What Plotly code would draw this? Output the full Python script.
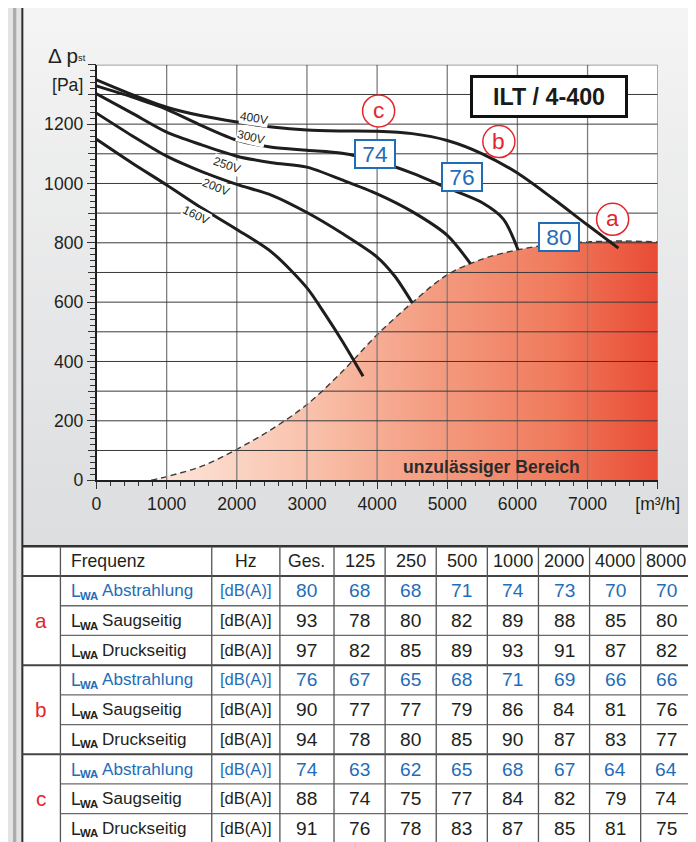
import plotly.graph_objects as go

# Geometry: every position below is given in reference-picture pixels.
# The background axes map those pixels onto the figure.
AX, SX = 5.0, 0.96      # observed page->picture mapping (horizontal)
AY, SY = 0.5, 0.985     # observed page->picture mapping (vertical)
OFF = 8                 # body margin of the html page
W, H = 712, 846
X0, X1 = AX + SX * OFF, AX + SX * (W + OFF)
Y0, Y1 = AY + SY * OFF, AY + SY * (H + OFF)
FS = 1.035              # font compensation for the mapping

FONT = "Liberation Sans, Arial, sans-serif"
INK = "#231f20"
BLUE = "#1f6db8"
RED = "#e3262b"

# ---------------- chart data ----------------
x_400 = [0, 500, 1000, 1500, 2000, 2500, 3000, 3500, 4000, 4500, 5000, 5500, 6000, 6500, 7000, 7440]
y_400 = [1349, 1300, 1257, 1228, 1207, 1190, 1180, 1177, 1176, 1168, 1145, 1100, 1035, 950, 860, 782]
x_300 = [0, 500, 1000, 1500, 2000, 2500, 3000, 3500, 4000, 4500, 5000, 5500, 5800, 6010]
y_300 = [1329, 1292, 1250, 1195, 1146, 1122, 1112, 1102, 1075, 1035, 985, 935, 880, 776]
x_250 = [0, 500, 1000, 1500, 2000, 2500, 3000, 3500, 4000, 4500, 5000, 5330]
y_250 = [1302, 1238, 1173, 1130, 1092, 1070, 1055, 1012, 965, 905, 825, 730]
x_200 = [0, 500, 1000, 1500, 2000, 2500, 3000, 3500, 4000, 4250, 4500]
y_200 = [1237, 1162, 1092, 1040, 997, 960, 902, 832, 752, 688, 598]
x_160 = [0, 500, 1000, 1500, 2000, 2500, 3000, 3250, 3500, 3800]
y_160 = [1149, 1070, 995, 917, 845, 768, 648, 562, 470, 350]

# limit of the permissible range ("unzulässiger Bereich" below)
x_limit = [780, 1000, 1500, 2000, 2500, 3000, 3500, 4000, 4500, 5000, 5500, 6000, 6500, 7000, 7500, 8000]
y_limit = [0, 12, 47, 104, 172, 255, 365, 490, 598, 692, 745, 776, 795, 803, 806, 803]

x_ticks = [0, 1000, 2000, 3000, 4000, 5000, 6000, 7000, 8000]
x_ticktext = ["0", "1000", "2000", "3000", "4000", "5000", "6000", "7000", "[m³/h]"]
y_labels = [0, 200, 400, 600, 800, 1000, 1200]
y_mid_ticks = [100, 300, 500, 700, 900, 1100, 1300, 1400]
y_grid = list(range(100, 1401, 100))

# ---------------- table data ----------------
freq_header = ["Frequenz", "Hz", "Ges.", "125", "250", "500", "1000", "2000", "4000", "8000"]
row_labels = ["Abstrahlung", "Saugseitig", "Druckseitig"]
group_labels = ["a", "b", "c"]
unit = "[dB(A)]"
a_abstrahlung = [80, 68, 68, 71, 74, 73, 70, 70]
a_saugseitig = [93, 78, 80, 82, 89, 88, 85, 80]
a_druckseitig = [97, 82, 85, 89, 93, 91, 87, 82]
b_abstrahlung = [76, 67, 65, 68, 71, 69, 66, 66]
b_saugseitig = [90, 77, 77, 79, 86, 84, 81, 76]
b_druckseitig = [94, 78, 80, 85, 90, 87, 83, 77]
c_abstrahlung = [74, 63, 62, 65, 68, 67, 64, 64]
c_saugseitig = [88, 74, 75, 77, 84, 82, 79, 74]
c_druckseitig = [91, 76, 78, 83, 87, 85, 81, 75]
table_rows = [a_abstrahlung, a_saugseitig, a_druckseitig,
              b_abstrahlung, b_saugseitig, b_druckseitig,
              c_abstrahlung, c_saugseitig, c_druckseitig]


def fx(p):
    return (p - X0) / (X1 - X0)


def fy(p):
    return 1 - (p - Y0) / (Y1 - Y0)


def fnt(size, color=INK):
    return dict(family=FONT, size=round(size * FS, 2), color=color)


fig = go.Figure()

# ---------- background subplot (reference-pixel space) ----------
fig.add_trace(go.Scatter(x=[22, 720, 720, 22, 22], y=[7, 7, 545, 545, 7], mode="lines",
                         fill="toself", line=dict(width=0),
                         fillgradient=dict(type="vertical", start=7, stop=545,
                                           colorscale=[[0, "#f4f4f4"], [1, "#dcdddf"]]),
                         hoverinfo="skip", showlegend=False, xaxis="x", yaxis="y"))
fig.add_trace(go.Scatter(x=[96, 656, 656, 96, 96], y=[65, 65, 479, 479, 65], mode="lines",
                         fill="toself", fillcolor="white", line=dict(width=0),
                         hoverinfo="skip", showlegend=False, xaxis="x", yaxis="y"))
fig.add_trace(go.Scatter(x=[22, 720, 720, 22, 22], y=[545, 545, 870, 870, 545], mode="lines",
                         fill="toself", fillcolor="white", line=dict(width=0),
                         hoverinfo="skip", showlegend=False, xaxis="x", yaxis="y"))

# ---------- chart subplot ----------
fig.add_trace(go.Scatter(x=x_limit, y=y_limit, mode="lines", fill="tozeroy",
                         line=dict(color="#3a3a3a", width=1.4, dash="6px,4px", shape="spline"),
                         fillgradient=dict(type="horizontal",
                                           colorscale=[[0, "#fde8de"], [0.3, "#f9c3ad"], [0.55, "#f49d82"],
                                                       [0.8, "#f07a5c"], [1, "#e94b35"]]),
                         hoverinfo="skip", showlegend=False, xaxis="x2", yaxis="y2"))

gx, gy = [], []
for v in x_ticks[1:]:
    gx += [v, v, None]
    gy += [0, 1400, None]
fig.add_trace(go.Scatter(x=gx, y=gy, mode="lines", line=dict(color="#7d7d7d", width=1.3),
                         hoverinfo="skip", showlegend=False, xaxis="x2", yaxis="y2"))
hx, hy = [], []
for v in y_grid:
    hx += [0, 8000, None]
    hy += [v, v, None]
fig.add_trace(go.Scatter(x=hx, y=hy, mode="lines", line=dict(color="#3a3a3a", width=1),
                         hoverinfo="skip", showlegend=False, xaxis="x2", yaxis="y2"))

for xs, ys in [(x_400, y_400), (x_300, y_300), (x_250, y_250), (x_200, y_200), (x_160, y_160)]:
    fig.add_trace(go.Scatter(x=xs, y=ys, mode="lines",
                             line=dict(color="#1e1e1e", width=3, shape="spline", smoothing=0.8),
                             hoverinfo="skip", showlegend=False, xaxis="x2", yaxis="y2"))

# invisible trace carrying the longer 100-Pa ticks
fig.add_trace(go.Scatter(x=[None], y=[None], mode="lines", hoverinfo="skip", showlegend=False,
                         xaxis="x2", yaxis="y3"))

# ---------- layout ----------
fig.update_layout(
    width=W, height=H, autosize=False,
    margin=dict(l=0, r=0, t=0, b=0, pad=0),
    paper_bgcolor="#e3e3e3", plot_bgcolor="rgba(0,0,0,0)",
    showlegend=False,
    xaxis=dict(domain=[0, 1], range=[X0, X1], visible=False, fixedrange=True),
    yaxis=dict(domain=[0, 1], range=[Y1, Y0], visible=False, fixedrange=True),
    xaxis2=dict(domain=[fx(96), fx(656)], range=[0, 8000], anchor="y2",
                showgrid=False, zeroline=False, showline=True, linecolor="#1e1e1e", linewidth=1.5,
                ticks="outside", ticklen=7, tickwidth=1.2, tickcolor="#333",
                tickvals=x_ticks, ticktext=x_ticktext, tickfont=fnt(17),
                minor=dict(dtick=200, ticks="outside", ticklen=4, tickcolor="#333", tickwidth=1),
                layer="above traces", fixedrange=True),
    yaxis2=dict(domain=[fy(479), fy(65)], range=[0, 1400], anchor="x2",
                showgrid=False, zeroline=False, showline=True, linecolor="#1e1e1e", linewidth=1.5,
                ticks="outside", ticklen=8, tickwidth=1.2, tickcolor="#333",
                tickvals=y_labels, ticktext=[str(v) for v in y_labels], tickfont=fnt(17),
                minor=dict(dtick=20, ticks="outside", ticklen=5, tickcolor="#333", tickwidth=1),
                layer="above traces", fixedrange=True),
    yaxis3=dict(overlaying="y2", anchor="x2", side="left", range=[0, 1400],
                showgrid=False, zeroline=False, showline=False,
                ticks="outside", ticklen=8, tickwidth=1.2, tickcolor="#333",
                tickvals=y_mid_ticks, showticklabels=False, fixedrange=True),
)

shapes = []
ann = []


def px_line(x0, y0, x1, y1, color, width):
    shapes.append(dict(type="line", xref="x", yref="y", x0=x0, y0=y0, x1=x1, y1=y1,
                       line=dict(color=color, width=width), layer="above"))


# page frame
shapes.append(dict(type="rect", xref="x", yref="y", x0=0, y0=0, x1=720, y1=7,
                   fillcolor="#b3b3b3", line=dict(width=0), layer="above"))
shapes.append(dict(type="rect", xref="x", yref="y", x0=5, y0=7, x1=16, y1=870,
                   fillcolor="#acacac", line=dict(width=0), layer="above"))
px_line(22, 7, 22, 870, "#2e2e2e", 2)
px_line(22, 7, 720, 7, "#2e2e2e", 2)

# axis labels / texts
ann.append(dict(x=46, y=56, xref="x", yref="y", text="Δ p", xanchor="left", yanchor="middle",
                showarrow=False, font=fnt(20)))
ann.append(dict(x=76, y=58, xref="x", yref="y", text="st", xanchor="left", yanchor="middle",
                showarrow=False, font=fnt(9)))
ann.append(dict(x=67, y=85, xref="x", yref="y", text="[Pa]", xanchor="center", yanchor="middle",
                showarrow=False, font=fnt(17)))

ann.append(dict(x=548, y=97, xref="x", yref="y", text="<b>ILT / 4-400</b>", showarrow=False,
                font=fnt(22.5, "#1a1a1a"), bgcolor="white",
                bordercolor="#111", borderwidth=3, borderpad=0, width=152, height=37))

ann.append(dict(x=490, y=466, xref="x", yref="y", text="<b>unzulässiger Bereich</b>", showarrow=False,
                font=fnt(17, "#2b2b2b")))

# voltage labels
for txt, cx, cy, ang in [("400V", 253, 118, 9), ("300V", 250, 137, 13), ("250V", 226, 165, 19),
                         ("200V", 215, 187, 22), ("160V", 195, 215, 26)]:
    ann.append(dict(x=cx, y=cy, xref="x", yref="y", text=txt, textangle=ang, showarrow=False,
                    font=fnt(11.5), bgcolor="white", borderpad=0))

# circled letters
for letter, cx, cy in [("c", 377.5, 111), ("b", 497.5, 141.5), ("a", 611, 219)]:
    shapes.append(dict(type="circle", xref="x", yref="y", x0=cx - 16, x1=cx + 16, y0=cy - 16, y1=cy + 16,
                       line=dict(color=RED, width=1.5), fillcolor="white", layer="above"))
    ann.append(dict(x=cx, y=cy - 1, xref="x", yref="y", text=letter, showarrow=False,
                    font=fnt(22, RED)))

# sound level boxes
for txt, cx, cy in [("74", 374, 154), ("76", 460.5, 177), ("80", 557.5, 236.5)]:
    ann.append(dict(x=cx, y=cy, xref="x", yref="y", text=txt, showarrow=False,
                    font=fnt(22, BLUE), bgcolor="white",
                    bordercolor=BLUE, borderwidth=2, borderpad=0, width=38, height=26))

# ---------- table ----------
band_w = 51
col_edges = [22, 60, 211, 279, 333] + [333 + band_w * k for k in range(1, 8)]
row_top = 545
row_h = 29.6
row_edges = [row_top + i * row_h for i in range(11)]

for i, yv in enumerate(row_edges):
    if i == 0:
        px_line(22, yv, 720, yv, "#333", 2.5)
    elif i in (1, 4, 7):
        px_line(22, yv, 720, yv, "#444", 2)
    else:
        px_line(60, yv, 720, yv, "#6a6a6a", 1.3)
for xe in col_edges[1:-1]:
    px_line(xe, row_top, xe, 870, "#555", 1.3)


def cx_of(c):
    return (col_edges[c] + col_edges[c + 1]) / 2


def cy_of(r):
    return (row_edges[r] + row_edges[r + 1]) / 2


# header
ann.append(dict(x=69, y=cy_of(0), xref="x", yref="y", text=freq_header[0], xanchor="left",
                showarrow=False, font=fnt(17)))
for c, h in enumerate(freq_header[1:], start=2):
    ann.append(dict(x=cx_of(c), y=cy_of(0), xref="x", yref="y", text=h, showarrow=False,
                    font=fnt(17 if c in (2, 3) else 17.5)))

for g, lab in enumerate(group_labels):
    ymid = (row_edges[1 + 3 * g] + row_edges[4 + 3 * g]) / 2
    ann.append(dict(x=cx_of(0), y=ymid, xref="x", yref="y", text=lab, showarrow=False,
                    font=fnt(20, RED)))

for r, vals in enumerate(table_rows):
    row = r + 1
    color = BLUE if r % 3 == 0 else INK
    name = row_labels[r % 3]
    yc = cy_of(row)
    ann.append(dict(x=69, y=yc + 0.5, xref="x", yref="y", xanchor="left", showarrow=False,
                    text="L", font=fnt(17, color)))
    ann.append(dict(x=78, y=yc + 5, xref="x", yref="y", xanchor="left", showarrow=False,
                    text="<b>WA</b>", font=fnt(11, color)))
    ann.append(dict(x=99, y=yc, xref="x", yref="y", xanchor="left", showarrow=False,
                    text=name, font=fnt(16.5, color)))
    ann.append(dict(x=cx_of(2), y=yc, xref="x", yref="y", showarrow=False,
                    text=unit, font=fnt(16, color)))
    for k, v in enumerate(vals):
        ann.append(dict(x=cx_of(3 + k), y=yc, xref="x", yref="y", showarrow=False,
                        text=str(v), font=fnt(18.5, color)))

fig.update_layout(shapes=shapes, annotations=ann)
fig.write_html("out.html")
